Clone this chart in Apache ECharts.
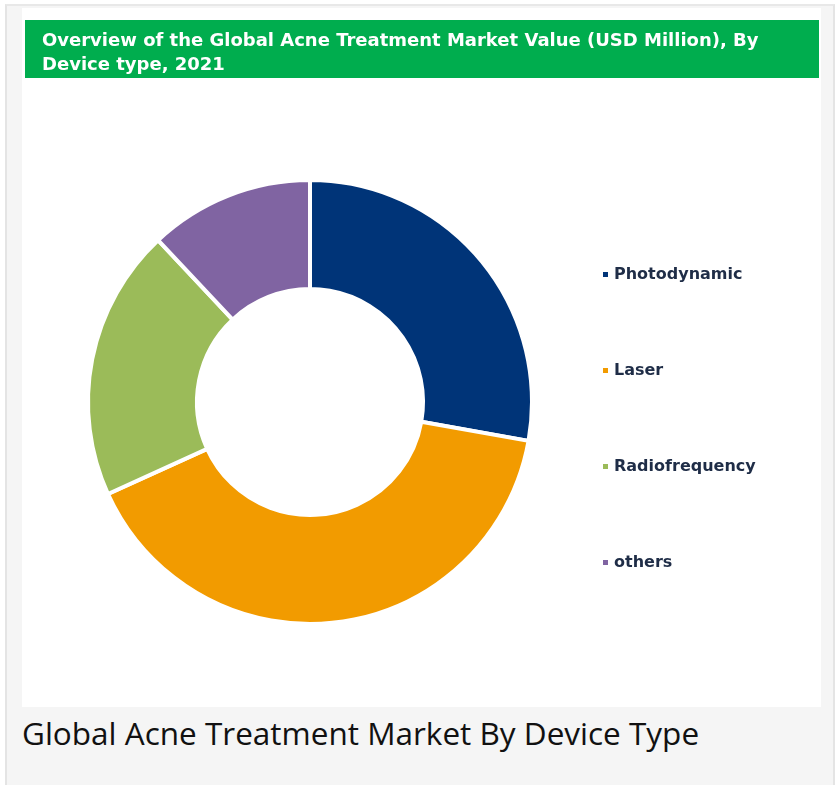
<!DOCTYPE html>
<html>
<head>
<meta charset="UTF-8">
<title>Global Acne Treatment Market By Device Type</title>
<script src="https://cdn.jsdelivr.net/npm/echarts@6/dist/echarts.min.js"></script>
<style>
body { margin: 0; background: #ffffff; }
#frame {
	position: absolute; left: 5px; top: 4px; width: 826px; height: 781px;
	background: #f5f5f5; border-left: 2px solid #e4e4e4; border-top: 2px solid #e8e8e8; border-right: 2px solid #e4e4e4;
}
#panel { position: absolute; left: 22px; top: 8px; width: 799px; height: 699px; background: #ffffff; }
#caption {
	position: absolute; left: 22px; top: 711px;
	font-family: "Open Sans", sans-serif; font-size: 31.5px; color: #111111;
}
</style>
</head>
<body>
	<div id="frame"></div>
	<div id="panel"></div>
	<div id="caption">Global Acne Treatment Market By Device Type</div>
	<script type="text/javascript">
	// 数据
	var categories = ['Photodynamic', 'Laser', 'Radiofrequency', 'others'];
	var values = [27.8, 40.4, 19.8, 12.0];
	var colors = ['#003478', '#f29b00', '#9bbb59', '#8064a2'];

	var myChart = echarts.init(document.getElementById("panel"));

	var pieData = [];
	for (var i = 0; i < categories.length; i++) {
		pieData.push({
			name: categories[i],
			value: values[i],
			itemStyle: { color: colors[i] }
		});
	}

	var option = {
		animation: false,
		// 绿色标题栏
		graphic: [{
			type: 'rect',
			left: 3, top: 12,
			shape: { width: 794, height: 58 },
			style: { fill: '#00ad4e' }
		}, {
			type: 'text',
			left: 20, top: 21,
			style: {
				text: 'Overview of the Global Acne Treatment Market Value (USD Million), By\nDevice type, 2021',
				fill: '#ffffff',
				font: 'bold 18px "DejaVu Sans", sans-serif',
				lineHeight: 24
			}
		}],
		legend: {
			orient: 'vertical',
			left: 574,
			top: 253,
			itemWidth: 7,
			itemHeight: 7,
			itemGap: 79,
			icon: 'rect',
			data: categories,
			textStyle: {
				color: '#1f2d47',
				fontWeight: 'bold',
				fontSize: 16,
				lineHeight: 17,
				fontFamily: 'DejaVu Sans'
			}
		},
		series: [{
			type: 'pie',
			center: [288, 394],
			radius: [113, 222],
			startAngle: 90,
			clockwise: true,
			label: { show: false },
			labelLine: { show: false },
			emphasis: { disabled: true },
			itemStyle: { borderColor: '#ffffff', borderWidth: 4 },
			data: pieData
		}]
	};
	myChart.setOption(option);
	</script>
</body>
</html>
